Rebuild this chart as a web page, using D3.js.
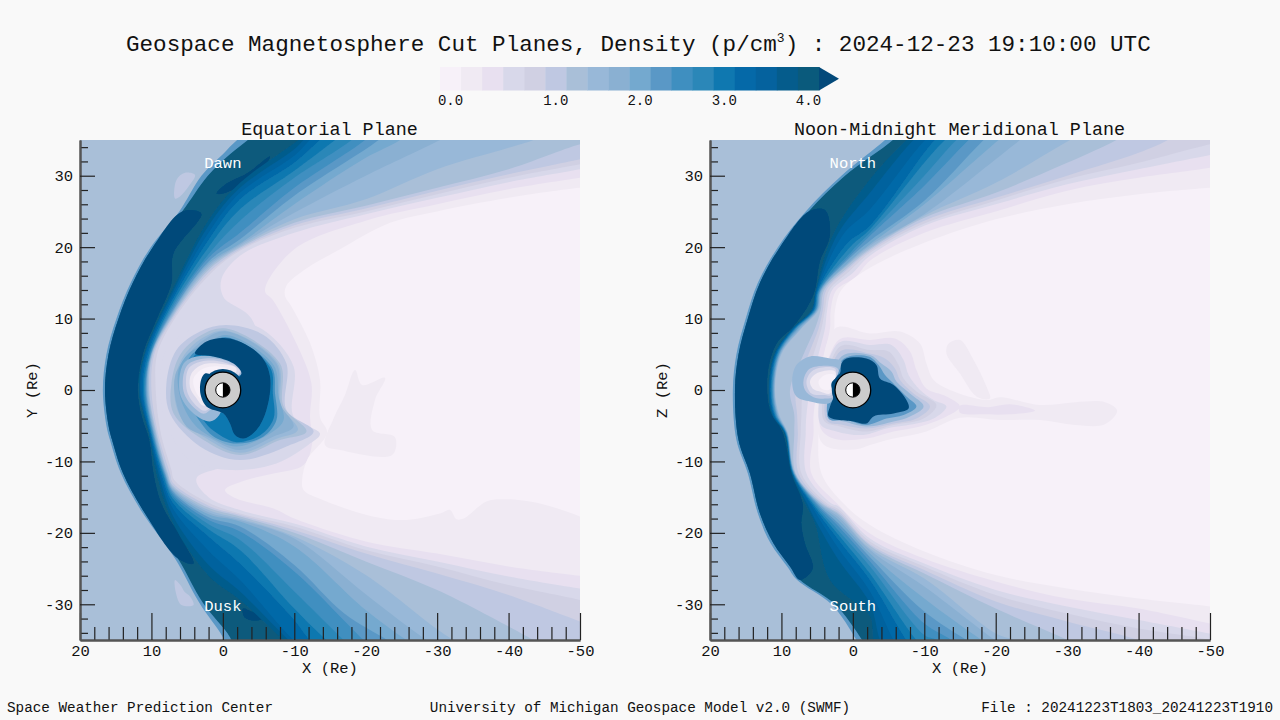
<!DOCTYPE html>
<html><head><meta charset="utf-8">
<script src="https://cdn.jsdelivr.net/npm/d3@7"></script>
<style>
html,body{margin:0;padding:0;background:#f9f9f9}
svg{display:block}
text{font-family:"Liberation Mono",monospace;fill:#111}
</style></head><body>
<svg id="c" width="1280" height="720"></svg>
<script>
// ---- colour bins of the density bar ----
const binColors=["#f7f1f9","#f0eaf3","#e8e0f0","#d8d8ea","#d0d0e3","#bfc8e2","#a9bfd8","#98b8d8","#8ab0d2","#74a9cf","#5a98c6","#3f8fc0","#2b87b8","#0f78b0","#0569a8","#05629e","#055c8c","#0a5a7c"];
const overColor="#03497a";
const barTicks=[[0,"0.0"],[5,"1.0"],[9,"2.0"],[13,"3.0"],[17,"4.0"]];
const WIND=6, OVER=18, TEAL=17, EDGE=10;

// ---- axis ticks ----
const xMajor=[20,10,0,-10,-20,-30,-40,-50];
const xMinor=[18,16,14,12,8,6,4,2,-2,-4,-6,-8,-12,-14,-16,-18,-22,-24,-26,-28,-32,-34,-36,-38,-42,-44,-46,-48];
const yMajor=[30,20,10,0,-10,-20,-30];
const yMinor=[34,32,28,26,24,22,18,16,14,12,8,6,4,2,-2,-4,-6,-8,-12,-14,-16,-18,-22,-24,-26,-28,-32,-34];
const earthRadius=2.5, earthHalo=2.95, earthCore=1;

// ---- EQUATORIAL PLANE: digitised contours, (X Re, Y Re) ----
const eqShockEdge=[[-5,37],[-2,35],[0,33],[3,30],[6.1,25],[10.1,20],[12.9,15],[14.9,10],[16.3,5],[16.8,0],[16.3,-5],[15.8,-7],[14.3,-11.6],[11.5,-16.8],[6.7,-23.6],[3.3,-29.8],[0,-34.6],[-1,-37]];
const eqShock=[[-6,37],[-3.5,35],[-1,33],[2.1,30],[5.7,25],[9.8,20],[12.6,15],[14.6,10],[16,5],[16.5,0],[16,-5],[15.5,-7],[14,-11.6],[11.2,-16.8],[6.3,-23.6],[2.8,-29.8],[-1,-34.6],[-2,-37]];
const eqOver=[[5.7,25],[9.8,20],[12.6,15],[14.6,10],[16,5],[16.5,0],[16,-5],[15.5,-7],[14,-11.6],[11.2,-16.8],[6.3,-23.6],[4.1,-24.3],[6,-20.5],[8.6,-15.9],[9.7,-11.7],[10.3,-7],[11.4,-3.5],[11.9,0],[11.2,5],[9.3,9.8],[7.2,14.9],[6.9,19.1],[3,24.7]];
const eqOverPatches=[
 [[.9,27.5],[-.5,28.9],[-3.3,30.3],[-6.6,32.7],[-6.1,31.7],[-2.9,28.9],[-.1,27.5]],
 [[-2.8,-30.6],[-4,-31],[-5.9,-31.8],[-4.5,-32.3],[-3,-31.8]]];
const eqWindPatches=[
 [[6.7,26.8],[6.5,29.4],[5.3,30.4],[3.9,30.1],[4.8,28.5],[6,27.1]],
 [[6.7,-26.6],[6.5,-28.7],[5.8,-30.1],[4.1,-30.1],[4.6,-28.9],[5.4,-28.2],[5.8,-27.5]]];
const eqLevelBins=[16,15,14,13,12,11,10,9,8,7,6,5,4,3,2,1,0];
const eqLevels=[
 [[-13,37],[-10.6,35],[-2.4,29],[2,23.8],[7,14.2],[11,5],[11.8,0],[10.4,-6],[9.3,-11.7],[7,-18.6],[2,-26],[-2.4,-29.4],[-8.5,-35],[-11,-37]],
 [[-13.5,37],[-11.3,35],[-10,33.7],[-2.4,28.3],[2,23],[7,13.7],[10.9,5],[11.6,0],[10.3,-6],[9,-11.7],[7,-17.6],[2,-24.5],[-2.4,-28.2],[-9.2,-35],[-11.5,-37]],
 [[-14.5,37],[-12.2,35],[-10,32.8],[-2.4,27.6],[2,22],[7,13.2],[10.7,5],[11.4,0],[10.2,-6],[8.8,-11.7],[7,-16.6],[2,-22.5],[-2.4,-26.6],[-9.9,-35],[-12.5,-37]],
 [[-16,37],[-13.6,35],[-10,31.8],[-2.4,26.7],[2,21],[7,12.7],[10.5,5],[11.2,0],[10.1,-6],[8.6,-11.7],[7,-15.8],[2,-20.5],[-2.4,-24.3],[-10,-32.2],[-12.2,-35],[-15,-37]],
 [[-18,37],[-15.7,35],[-10,30.7],[-2.4,25.3],[2,20],[7,12.2],[10.3,5],[11.05,0],[10,-6],[8.4,-11.7],[7,-15.2],[2,-19.5],[-2.4,-22.4],[-10,-30.6],[-14.5,-35],[-17,-37]],
 [[-20,37],[-18,35],[-10,29.7],[-2.4,23.7],[2,19],[7,11.8],[10.2,5],[10.9,0],[9.9,-6],[8.3,-11.7],[7,-14.8],[2,-18.8],[-2.4,-21],[-10,-28.2],[-16.9,-35],[-19,-37]],
 [[-22,37],[-19.9,35],[-10,28.3],[-2.4,22],[2,18.5],[7,11.4],[10.1,5],[10.8,0],[9.8,-6],[8.2,-11.7],[7,-14.5],[2,-18.2],[-2.4,-19.8],[-10,-25.4],[-19.7,-35],[-22,-37]],
 [[-24,37],[-21.8,35],[-10,27.2],[-2.4,21.1],[2,18],[7,11.1],[10.05,5],[10.7,0],[9.7,-6],[8.1,-11.7],[7,-14.2],[2,-17.8],[-2.4,-19.1],[-10,-24.5],[-17,-31.3],[-23,-35],[-26,-37]],
 [[-27,37],[-24.8,35],[-20,32.5],[-10,26],[-2.4,20.5],[2,17.7],[7,10.9],[10,5],[10.6,0],[9.6,-6],[8,-11.7],[7,-14],[2,-17.4],[-2.4,-18.4],[-10,-21.9],[-20,-30.8],[-25.7,-35],[-29,-37]],
 [[-34,37],[-30.4,35],[-20,30],[-10,24.8],[-2.4,20.3],[2,17.4],[7,10.7],[9.95,5],[10.5,0],[9.5,-6],[7.9,-11.7],[7,-13.8],[2,-17.1],[-2.4,-18.2],[-10,-20.8],[-20,-28.6],[-28.5,-35],[-32,-37]],
 [[-48,37],[-43.5,35],[-40,33.9],[-30,30.9],[-20,26.7],[-10,23.9],[-2.4,20.1],[2,17.1],[7,10.5],[9.9,5],[10.4,0],[9.4,-6],[7.8,-11.7],[7,-13.6],[2,-16.8],[-2.4,-18],[-10,-20.5],[-20,-25.9],[-30,-33.5],[-32.3,-35],[-36,-37]],
 [[-53,35],[-50,34.4],[-40,30.9],[-30,28.3],[-20,25.8],[-10,23.4],[-2.4,19.9],[2,16.8],[7,10.3],[9.8,5],[10.3,0],[9.3,-6],[7.7,-11.7],[7,-13.4],[2,-16.5],[-2.4,-17.7],[-10,-20],[-20,-24],[-30,-28],[-40,-33.1],[-43.5,-35],[-47,-37]],
 [[-53,33],[-50,32.3],[-40,30.2],[-30,27.9],[-20,25.4],[-10,23.05],[-2.4,19.7],[2,16.4],[7,10],[9.6,5],[10,0],[9.1,-6],[7.4,-11.7],[7,-13],[2,-16.2],[-2.4,-17.5],[-10,-19.6],[-20,-22.9],[-30,-25.7],[-40,-28.7],[-50,-32.4],[-53,-33.5]],
 [[-53,32.2],[-50,31.6],[-40,29.7],[-30,27.4],[-20,25],[-10,22.7],[-2.4,19.5],[2,16],[7,9.6],[9.2,5],[9.4,0],[8.7,-6],[7.2,-11.2],[6.8,-12.6],[2,-15.8],[-2.4,-17.3],[-10,-19.1],[-20,-22.4],[-30,-24.7],[-40,-27.3],[-50,-29.4],[-53,-30.3]],
 [[-53,31.5],[-50,30.9],[-40,29.1],[-30,26.9],[-20,24.6],[-10,22],[-2.4,18.8],[.2,15.5],[-.1,13],[-4,10],[-6,0],[-4,-9],[3.7,-12.4],[2,-15],[-2.4,-16.8],[-10,-18.7],[-20,-21.9],[-30,-24],[-40,-26.1],[-50,-27.8],[-53,-28.3]],
 [[-53,30.2],[-50,29.7],[-40,28.1],[-30,26],[-20,23.7],[-10,19.7],[-5.9,13.9],[-7,12.6],[-10.3,6.5],[-12.4,.9],[-12.2,-3.7],[-12.5,-7.5],[-11.3,-10.5],[-7.1,-11.7],[-3.3,-12.6],[-.3,-14],[-1.9,-15.2],[-7.1,-16.6],[-10,-18],[-20,-21.2],[-30,-22.9],[-40,-24.7],[-50,-26],[-53,-26.3]],
 [[-53,28.5],[-50,28.3],[-40,26.9],[-30,25],[-23.4,23.4],[-16.4,19.7],[-11.7,17],[-8.9,14.6],[-8.7,13.2],[-9.6,11.7],[-12.2,6.6],[-13.6,1.4],[-13.6,-3.8],[-14.6,-6],[-11.8,-9.8],[-11.1,-12.6],[-11.3,-14],[-14,-15.4],[-21,-17.7],[-25.7,-18.2],[-30.4,-17.3],[-31.8,-16.8],[-32.7,-18.1],[-33.7,-18],[-36.9,-15.6],[-39.7,-15.3],[-44.4,-15.9],[-50,-17.7],[-53,-19]]
];
const eqBlobBins=[1,3,5,6,7,8,9,11,13,7,5,3,1,0,OVER];
const eqBlobs=[
 [[-17.1,-.7],[-18.5,2.8],[-19.5,.7],[-22.7,1.7],[-21.3,-1.4],[-20.9,-5.6],[-24.1,-6.6],[-23.7,-9.1],[-16.4,-8.4],[-14.3,-7.7],[-15.5,-4]],
 [[-1,9.8],[-5.7,8.4],[-9.9,3.3],[-9.9,-3.7],[-13.6,-6.1],[-12.2,-7.5],[-7.5,-10.3],[-1,-11.2],[4.6,-9.8],[7.9,-4.7],[8.8,.5],[7.9,5.6],[3.7,8.9]],
 [[-.5,9.1],[-5.7,7.7],[-8.9,3.7],[-8.9,-2.8],[-12.7,-5.8],[-8.9,-7.9],[-2.4,-9.8],[3.2,-7.9],[7.4,-3.3],[7.9,.9],[6.5,5.6],[3.2,8.2]],
 [[-.5,8.6],[-8,3.7],[-8.5,-2.3],[-11.7,-5.8],[-8,-7],[-2.4,-9.1],[2.7,-7],[6.9,-3.3],[7.2,.9],[6,4.9],[3,7.7]],
 [[-.5,8.3],[-7.7,3.7],[-8.2,-2.2],[-10.5,-5.6],[-7.6,-6.8],[-2.4,-8.8],[2.3,-6.8],[6,-3.6],[6.8,.8],[5.6,4.6],[2.8,7.3]],
 [[-.5,8.2],[-7.5,3.7],[-8,-1.9],[-9.9,-5.1],[-7.1,-6.5],[-2.4,-8.4],[2.3,-6.5],[5.1,-5.1],[6.5,-1.9],[6.7,1.9],[5.3,4.4],[2.7,7]],
 [[-.5,7.7],[-7.1,3.5],[-7.8,-.9],[-8.5,-4.2],[-6.6,-6.1],[-1.9,-7.9],[1.8,-6.5],[4.1,-4.7],[6,-.9],[6.2,2.8],[4.8,5.1],[2.3,6.5]],
 [[-.5,7.4],[-6.8,3.3],[-7.3,-.5],[-7.5,-4.2],[-5.7,-6.5],[-1.9,-7.5],[1.3,-6.5],[3,-4.7],[4.8,-1.4],[5.3,2.8],[4.4,4.9],[2.3,6.2]],
 [[-.5,7.2],[-6.6,3.2],[-7,-.5],[-7.1,-4],[-5.3,-6.3],[-1.9,-7.3],[.9,-6],[2.5,-4.5],[4.2,-1.4],[4.8,2.8],[4,4.8],[2.2,6.1]],
 [[5.5,3.7],[3.7,4.7],[-.1,4.4],[-2.9,2.6],[-1,1],[.5,-3.5],[1.8,-4.4],[4.1,-3.3],[6,-.5]],
 [[5.1,3.3],[3.2,4.3],[-.1,4.2],[-2.6,2.7],[-1,1],[2.5,-3.3],[3.9,-2.6],[5.5,-.2]],
 [[4.8,3],[3,4],[-.1,3.9],[-2.4,2.7],[-1,1],[2.4,-2.9],[3.6,-2.3],[5,-.2]],
 [[4.4,2.3],[2.7,3.6],[-.1,3.6],[-1.9,3],[-1,1],[2.6,-2.2],[3.8,-1],[4.6,.4]],
 [[4.1,1.6],[2.7,3],[.5,3.3],[-.8,2.8],[-.5,1],[2.8,-1.3],[3.8,-.2]],
 [[3.9,5.1],[2.3,6.8],[-1,7.2],[-5.2,4.9],[-6.6,1.9],[-6.1,-2.8],[-4.7,-5.6],[-2.9,-6.8],[-1.7,-6.3],[-1,-4.7],[-.1,-3.3],[2.3,-2.3],[3.2,0],[2.5,2.3],[-1,1],[-2.6,2.3],[-1.5,3.7],[1.3,4.7]]
];

// ---- MERIDIONAL PLANE: digitised contours, (X Re, Z Re) ----
const merShockEdge=[[-6.5,37],[-4.5,35],[1.6,30],[6.6,25],[10.5,20],[13.3,15],[15,10],[16.3,5],[16.8,0],[16.3,-7],[14.7,-11.7],[13.3,-17.3],[11.5,-21.5],[9.2,-24.7],[7.8,-26.6],[3,-30],[-.5,-35],[-1.5,-37]];
const merShock=[[-7.5,37],[-5.6,35],[1.1,30],[6.2,25],[10.2,20],[13,15],[14.7,10],[16,5],[16.5,0],[16,-7],[14.4,-11.7],[13,-17.3],[11.1,-21.5],[8.8,-24.7],[7.4,-26.6],[2.5,-30],[-1.3,-35],[-2.5,-37]];
const merOver=[[6.2,25],[10.2,20],[13,15],[14.7,10],[16,5],[16.5,0],[16,-7],[14.4,-11.7],[13,-17.3],[11.1,-21.5],[8.8,-24.7],[7.4,-26.6],[5.6,-25],[6.7,-21.5],[7.2,-18.7],[7,-16],[8.6,-11.7],[9.8,-6],[11.6,-2.8],[11.9,2.4],[10.6,6.6],[8.4,8.8],[6.2,11.9],[5.3,14],[4.6,18],[3.2,21.7],[3.9,25.2]];
const merLevelBins=[16,15,14,13,12,11,10,9,8,7,6,5,4,3,2,1,0];
const merLevels=[
 [[-10,37],[-7.5,35],[-2.4,29.5],[2.8,21.7],[5.2,14],[5.8,11.2],[8.5,8.6],[11,5],[11.8,0],[11.3,-3.5],[9.6,-6],[8.55,-11.7],[6.7,-15.9],[5.3,-18.7],[3.2,-26.6],[-2.4,-31.7],[-2.9,-35],[-4,-37]],
 [[-11,37],[-8.5,35],[-2.4,27.6],[2.2,21.7],[5.1,14],[5.7,11.2],[8.4,8.6],[10.9,5],[11.7,0],[11.2,-3.5],[9.55,-6],[8.5,-11.7],[6.4,-15.9],[5,-18.7],[2,-23.8],[-2.4,-29.9],[-3.8,-35],[-5,-37]],
 [[-12.5,37],[-10.1,35],[-2.4,25.3],[1.4,21.7],[5,14],[5.6,11.2],[8.3,8.6],[10.8,5],[11.6,0],[11.1,-3.5],[9.5,-6],[8.45,-11.7],[6,-15.9],[2,-22.2],[-2.4,-28.2],[-5.7,-35],[-7,-37]],
 [[-14,37],[-11.5,35],[-10,33.2],[-2.4,23],[.8,20.5],[4.9,14],[5.5,11.2],[8.2,8.6],[10.7,5],[11.5,0],[11,-3.5],[9.45,-6],[8.4,-11.7],[5.8,-15.9],[2,-21],[-2.4,-26.6],[-7.5,-35],[-9,-37]],
 [[-15.5,37],[-12.9,35],[-10,31.8],[-2.4,22.5],[.4,20],[4.8,14],[5.4,11.2],[8.1,8.6],[10.6,5],[11.4,0],[10.9,-3.5],[9.4,-6],[8.35,-11.7],[5.6,-15.9],[2,-20.3],[-2.4,-25.7],[-8.9,-35],[-11,-37]],
 [[-17,37],[-14.5,35],[-10,30],[-2.4,22],[.1,19.5],[4.7,14],[5.3,11.2],[8,8.6],[10.5,5],[11.3,0],[10.8,-3.5],[9.35,-6],[8.3,-11.7],[5.4,-15.9],[2,-19.7],[-2.4,-24.7],[-10,-34.3],[-11.7,-35],[-13.5,-37]],
 [[-18.5,37],[-16.2,35],[-10,28.6],[-2.4,21.6],[.2,19],[4.6,14],[5.2,11.2],[7.9,8.6],[10.4,5],[11.2,0],[10.7,-3.5],[9.3,-6],[8.25,-11.7],[5.2,-15.9],[2,-19.1],[-2.4,-24],[-10,-32.7],[-13.8,-35],[-16,-37]],
 [[-20.5,37],[-18.3,35],[-10,26.5],[-2.4,20.9],[.4,18.5],[4.5,14],[5.1,11.2],[7.7,8.6],[10.3,5],[11.1,0],[10.6,-3.5],[9.25,-6],[8.2,-11.7],[5,-15.9],[2,-18.7],[-2.4,-23.4],[-10,-31],[-15.9,-35],[-19,-37]],
 [[-23,37],[-20.4,35],[-10,26],[-2.4,20.4],[.5,18],[4.4,14],[5,11.2],[7.5,8.6],[10.2,5],[11,0],[10.5,-3.5],[9.2,-6],[8.15,-11.7],[4.8,-15.9],[2,-18.2],[-2.4,-22.9],[-10,-29.2],[-18,-35],[-21,-37]],
 [[-26,37],[-23.4,35],[-20,32.3],[-10,24.6],[-2.4,20.2],[.6,17.7],[4.3,14],[4.9,11.2],[7.3,8.6],[10.1,5],[10.95,0],[10.4,-3.5],[9.15,-6],[8.1,-11.7],[4.7,-15.9],[2,-17.8],[-2.4,-22.4],[-10,-27.5],[-19.9,-35],[-23,-37]],
 [[-34,37],[-30.4,35],[-20,29],[-10,24.4],[-2.4,19.9],[.7,17.5],[4.2,14],[4.8,11.2],[7.2,8.6],[10,5],[10.9,0],[10.3,-3.5],[9.1,-6],[8.05,-11.7],[4.5,-15.9],[2,-17.5],[-2.4,-22.2],[-10,-26.4],[-20,-34.1],[-22.5,-35],[-26,-37]],
 [[-40,37],[-36.9,35],[-30,31.8],[-20,27.6],[-10,24.1],[-2.4,19.7],[.7,17.2],[4,14],[4.5,11.2],[5.3,8.6],[6.9,5],[8.8,0],[8.2,-3.5],[8.2,-6],[8,-11.7],[4.3,-15.9],[2,-17.3],[-2.4,-21.8],[-10,-25.7],[-20,-30.6],[-30,-35],[-34,-37]],
 [[-47,37],[-44.1,35],[-40,33.2],[-30,30],[-20,26.9],[-10,23.7],[-2.4,19.5],[.6,17],[3.7,14],[4.2,11.2],[4.8,8.6],[6.2,5],[8,0],[7.8,-3.5],[7.7,-6],[7.6,-11.7],[4,-15.9],[2,-17],[-2.4,-21.6],[-10,-25.2],[-20,-29.6],[-30,-32.4],[-40,-35],[-45,-37]],
 [[-53,35],[-50,34.4],[-40,31.8],[-30,29.5],[-20,26.5],[-10,23.3],[-2.4,19.2],[.4,16.7],[3.3,14],[3.9,11.2],[4.4,8.6],[5.5,5],[7,0],[7.2,-3.5],[7.3,-6],[7.2,-11.7],[3.6,-15.9],[2,-16.7],[-2.4,-21.2],[-10,-24.7],[-20,-28.7],[-30,-31.3],[-40,-33.4],[-50,-35],[-53,-36]],
 [[-53,33.5],[-50,32.9],[-40,30.9],[-30,28.8],[-20,26],[-10,23],[-2.4,18.8],[.1,16.3],[2.9,14],[3.6,11.2],[3.9,8.6],[4.8,5],[6,0],[6.5,-3.5],[6.6,-6],[6.5,-11.7],[3,-15.9],[2,-16.3],[-2.4,-20.8],[-10,-24.3],[-20,-28],[-30,-30.3],[-40,-32.2],[-50,-34.1],[-53,-34.7]],
 [[-53,31.7],[-50,31.1],[-40,29.7],[-30,27.9],[-20,25],[-10,22],[-2.4,18.1],[-.4,15.8],[2.3,14],[3.1,11.2],[3.2,8.6],[4,5],[5,0],[5.5,-3.5],[5.5,-6],[5.8,-11.7],[2.2,-15.9],[-2.4,-20.1],[-10,-23.6],[-20,-26.8],[-30,-29.2],[-40,-30.6],[-50,-32.7],[-53,-33.3]],
 [[-53,28.5],[-50,28.3],[-40,27.4],[-30,26],[-20,23.9],[-10,20.6],[-2.4,17.1],[1.6,14],[2.5,11.2],[2.6,8.6],[3,5],[3.5,0],[4.5,-3.5],[4.8,-6],[4.4,-11.7],[1.3,-15.9],[-2.4,-18.9],[-10,-22.6],[-20,-25.9],[-30,-27.8],[-40,-29.2],[-50,-30.3],[-53,-30.7]]
];
const merBlobBins=[1,1,2,2,3,4,5,7,10,7,5,3,1,0,OVER];
const merBlobs=[
 [[-13.1,5.1],[-13.4,6.5],[-15,7],[-16.9,4.2],[-18.7,.5],[-19.2,-1.2],[-17.3,-.9],[-15,2.3]],
 [[2.5,8.6],[-2.4,7.9],[-6.6,8.2],[-9.4,6.5],[-10.3,3.7],[-11.3,1.4],[-13.6,0],[-18.7,-1.4],[-20.6,-1],[-26.2,-2.1],[-31.1,-1.7],[-35.3,-1.7],[-37,-2.9],[-35.3,-4.8],[-31.1,-4.9],[-26.2,-4.2],[-20.6,-4.2],[-15,-3.9],[-10.3,-5.8],[-5.7,-6.8],[-2.4,-7.7],[-.5,-8.3],[3.7,-7.9],[4.8,-6.3]],
 [[-15,-2.2],[-19,-2.4],[-22,-2],[-25.5,-2.9],[-22,-3.4],[-18,-3.4],[-15,-3.2]],
 [[2,7],[-2.4,7],[-5.9,7.2],[-8,5.4],[-8.9,2.8],[-10.3,.2],[-13.1,-.9],[-15,-2.3],[-13.1,-3.7],[-9.4,-5.1],[-5.7,-5.8],[-1.9,-6.8],[2.7,-6.8],[4.6,-5.1]],
 [[2,6.6],[-2.4,6.3],[-5.4,6.3],[-7.1,4.2],[-7.8,2.1],[-9.4,0],[-11.3,-1.4],[-13.1,-2.3],[-11.3,-4],[-8.9,-4.7],[-4.7,-5.4],[-1.5,-6.3],[2.3,-5.8],[4.6,-4.7]],
 [[1.8,6.1],[-2.4,5.6],[-5,5.4],[-6.4,3.5],[-7.1,1.6],[-8.9,-.2],[-11.7,-2.1],[-9.9,-4],[-5.7,-4.9],[-1.9,-5.8],[1.8,-5.1],[4.1,-4.2]],
 [[1.8,5.4],[-2.4,5.1],[-4.5,4.4],[-5.9,3],[-6.6,1.4],[-8.5,-.5],[-10.8,-2.3],[-8.9,-4],[-5.7,-4.7],[-1.9,-5.4],[1.3,-4.9],[3.7,-4.2]],
 [[1.6,4.7],[-2.4,4.9],[-4,3.7],[-5.4,2.6],[-6.1,1.2],[-8,-.5],[-9.9,-2.3],[-8,-3.7],[-5.7,-4.4],[-1.9,-5.1],[1.3,-4.4],[3.4,-4]],
 [[1.5,4.2],[-2.2,4.7],[-3.6,3.5],[-4.5,2.1],[-5.4,1.2],[-7.5,-.9],[-8.9,-2.3],[-7.1,-3.5],[-4.7,-4],[-1.9,-4.9],[.9,-4.2],[3.4,-4]],
 [[8.5,1.2],[7.9,3.5],[6,4.7],[3.2,4.4],[1.6,4],[2.5,1.4],[2.7,-1.2],[3.4,-1.9],[6,-1.6],[7.9,-.9]],
 [[6.9,1.4],[6,3],[2.7,3.3],[2,2.8],[2.5,1.2],[2.7,-.9],[3.7,-1.2],[5.5,-1],[6.7,0]],
 [[6.5,1.2],[5.5,2.8],[2.5,3],[2.5,.9],[3,-.7],[4.1,-.7],[5.8,-.5]],
 [[6,1.2],[5.1,2.3],[2.5,2.6],[2.6,.9],[3.2,-.5],[4.6,-.2],[5.5,.1]],
 [[4.8,1.2],[3.9,2.1],[2.6,2.1],[2.6,.7],[3.4,0],[4.4,.2]],
 [[1.6,3.7],[.9,4.4],[-1.9,4.4],[-3.3,3.5],[-3.8,1.6],[-5.7,.7],[-7.5,-1.4],[-7.8,-2.6],[-5.7,-3.3],[-2.9,-3.7],[-1.9,-4.7],[-.1,-4.4],[3.4,-3.7],[3.2,-2.3],[2.7,-.9],[3,.9],[1.8,2.3]]
];

// ---- texts ----
const titleParts=["Geospace Magnetosphere Cut Planes, Density (p/cm","3",") : 2024-12-23 19:10:00 UTC"];
const footer=[["Space Weather Prediction Center",7,"start"],["University of Michigan Geospace Model v2.0 (SWMF)",640,"middle"],["File : 20241223T1803_20241223T1910",1273,"end"]];

const svg=d3.select("#c");
svg.append("rect").attr("width",1280).attr("height",720).attr("fill","#f9f9f9");
const defs=svg.append("defs");
defs.append("filter").attr("id","soft").attr("x",-.05).attr("y",-.05).attr("width",1.1).attr("height",1.1)
  .append("feGaussianBlur").attr("stdDeviation",0.7);

const colorOf=b=>b===OVER?overColor:binColors[b];

// title
const t=svg.append("text").attr("x",126).attr("y",51).style("font-size","22.6px");
t.append("tspan").text(titleParts[0]);
t.append("tspan").attr("dy",-9).style("font-size","13px").text(titleParts[1]);
t.append("tspan").attr("dy",9).text(titleParts[2]);

// colour bar
const barX=d3.scaleBand().domain(d3.range(binColors.length)).range([440,819]);
const bar=svg.append("g");
bar.selectAll("rect").data(binColors).join("rect")
  .attr("x",(d,i)=>barX(i)).attr("y",67).attr("width",barX.bandwidth()+.4).attr("height",23.5).attr("fill",d=>d);
bar.append("path").attr("d","M819,67L839,78.8L819,90.5Z").attr("fill",overColor);
bar.selectAll("text").data(barTicks).join("text")
  .attr("x",d=>barX(d[0])+barX.bandwidth()/2).attr("y",105).attr("text-anchor","middle")
  .style("font-size","14px").text(d=>d[1]);

function panel(cfg){
  const x=d3.scaleLinear().domain([20,-50]).range([cfg.left,cfg.left+500]);
  const y=d3.scaleLinear().domain([35,-35]).range([140,640]);
  const g=svg.append("g");
  const cid="clip"+cfg.left;
  defs.append("clipPath").attr("id",cid).append("rect").attr("x",cfg.left).attr("y",140).attr("width",500).attr("height",500);
  const soft=g.append("g").attr("filter","url(#soft)");
  const field=soft.append("g").attr("clip-path",`url(#${cid})`);
  field.append("rect").attr("x",cfg.left).attr("y",140).attr("width",500).attr("height",500).attr("fill",colorOf(WIND));
  const open=d3.line().x(d=>x(d[0])).y(d=>y(d[1])).curve(d3.curveCatmullRom.alpha(.5));
  const closed=d3.line().x(d=>x(d[0])).y(d=>y(d[1])).curve(d3.curveCatmullRomClosed.alpha(.5));
  const region=pts=>open(pts)+`L${x(-75)},${y(pts[pts.length-1][1])}L${x(-75)},${y(pts[0][1])}Z`;
  const addOpen=(pts,b)=>field.append("path").attr("d",region(pts)).attr("fill",colorOf(b));
  const addClosed=(pts,b)=>field.append("path").attr("d",closed(pts)).attr("fill",colorOf(b));
  (cfg.windPatches||[]).forEach(p=>addClosed(p,5));
  addOpen(cfg.shockEdge,EDGE);
  addOpen(cfg.shock,TEAL);
  addClosed(cfg.over,OVER);
  (cfg.overPatches||[]).forEach(p=>addClosed(p,OVER));
  cfg.levels.forEach((p,i)=>addOpen(p,cfg.levelBins[i]));
  cfg.blobs.forEach((p,i)=>addClosed(p,cfg.blobBins[i]));
  // Earth
  const r=v=>x(0)-x(v), cx=x(0), cy=y(0);
  field.append("circle").attr("cx",cx).attr("cy",cy).attr("r",r(earthHalo)).attr("fill",overColor);
  g.append("circle").attr("cx",cx).attr("cy",cy).attr("r",r(earthRadius)).attr("fill","#cccccc").attr("stroke","#000").attr("stroke-width",1.3);
  g.append("circle").attr("cx",cx).attr("cy",cy).attr("r",r(earthCore)).attr("fill","#fff").attr("stroke","#000").attr("stroke-width",1);
  g.append("path").attr("transform",`translate(${cx},${cy})`)
    .attr("d",d3.arc()({innerRadius:0,outerRadius:r(earthCore),startAngle:0,endAngle:Math.PI})).attr("fill","#000");
  // axes
  const style=a=>{a.select(".domain").attr("stroke","#555").attr("stroke-width",2);
    a.selectAll(".tick line").attr("stroke","#222").attr("stroke-width",1.2);
    a.selectAll("text").style("font-family",'"Liberation Mono",monospace').style("font-size","15.5px").attr("fill","#111");};
  g.append("g").attr("transform","translate(0,640)").call(d3.axisBottom(x).tickValues(xMinor).tickFormat("").tickSizeInner(-13).tickSizeOuter(0)).call(style);
  g.append("g").attr("transform","translate(0,640)").call(d3.axisBottom(x).tickValues(xMajor).tickFormat(String).tickSizeInner(-27).tickSizeOuter(0).tickPadding(5)).call(style);
  g.append("g").attr("transform",`translate(${cfg.left},0)`).call(d3.axisLeft(y).tickValues(yMinor).tickFormat("").tickSizeInner(-8).tickSizeOuter(0)).call(style);
  g.append("g").attr("transform",`translate(${cfg.left},0)`).call(d3.axisLeft(y).tickValues(yMajor).tickFormat(String).tickSizeInner(-15).tickSizeOuter(0).tickPadding(7)).call(style);
  g.selectAll("g.tick text").attr("font-family",null);
  // labels
  const mid=cfg.left+250;
  g.append("text").attr("x",mid-.5).attr("y",135).attr("text-anchor","middle").style("font-size","18.4px").text(cfg.title);
  g.append("text").attr("x",x(-15)).attr("y",673).attr("text-anchor","middle").style("font-size","15.5px").text("X (Re)");
  g.append("text").attr("transform",`translate(${cfg.left-43},${y(0)}) rotate(-90)`).attr("text-anchor","middle").style("font-size","15.5px").text(cfg.yLabel);
  g.append("text").attr("x",cx).attr("y",168).attr("text-anchor","middle").style("font-size","15.5px").style("fill","#fff").text(cfg.top);
  g.append("text").attr("x",cx).attr("y",611).attr("text-anchor","middle").style("font-size","15.5px").style("fill","#fff").text(cfg.bottom);
}
panel({left:80,title:"Equatorial Plane",yLabel:"Y (Re)",top:"Dawn",bottom:"Dusk",shockEdge:eqShockEdge,shock:eqShock,over:eqOver,overPatches:eqOverPatches,windPatches:eqWindPatches,levels:eqLevels,levelBins:eqLevelBins,blobs:eqBlobs,blobBins:eqBlobBins});
panel({left:710,title:"Noon-Midnight Meridional Plane",yLabel:"Z (Re)",top:"North",bottom:"South",shockEdge:merShockEdge,shock:merShock,over:merOver,levels:merLevels,levelBins:merLevelBins,blobs:merBlobs,blobBins:merBlobBins});

svg.selectAll("text.foot").data(footer).join("text").attr("class","foot")
  .attr("x",d=>d[1]).attr("y",712).attr("text-anchor",d=>d[2]).style("font-size","14.3px").text(d=>d[0]);
</script></body></html>
